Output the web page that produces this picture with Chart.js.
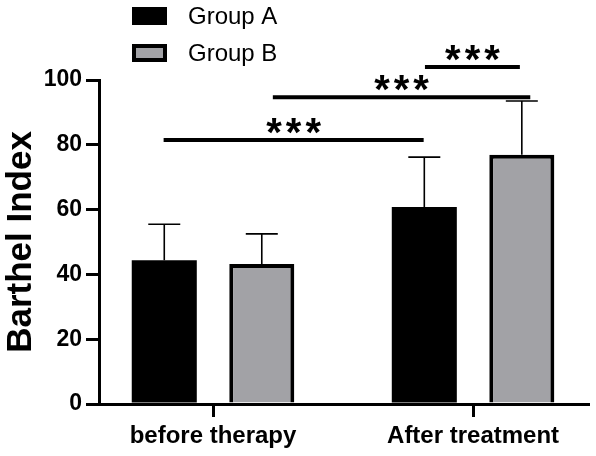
<!DOCTYPE html>
<html>
<head>
<meta charset="utf-8">
<script src="https://cdn.jsdelivr.net/npm/chart.js@4"></script>
<style>
  html, body { margin: 0; padding: 0; background: #fff; }
</style>
</head>
<body>
<canvas id="barthelChart" width="596" height="456"></canvas>
<script>
const categories = ['before therapy', 'After treatment'];
const groupNames = ['Group A', 'Group B'];
const groupAMean = [44.4, 60.8];
const groupASd = [11.1, 15.4];
const groupBMean = [43.2, 76.9];
const groupBSd = [9.3, 16.6];
const yTicks = [0, 20, 40, 60, 80, 100];
// significance bars: level on the y scale, ends on the x scale
const sigLevel = [81.5, 94.7, 104];
const sigStart = [-0.19, 0.23, 0.815];
const sigEnd = [0.81, 1.22, 1.18];
const sigLabel = ['***', '***', '***'];

const FONT = "'Liberation Sans', Arial, sans-serif";

const errorBars = {
    id: 'errorBars',
    afterDatasetsDraw(chart) {
        const ctx = chart.ctx;
        const y = chart.scales.y;
        ctx.save();
        ctx.strokeStyle = '#000';
        ctx.lineWidth = 1.6;
        chart.data.datasets.forEach((ds, di) => {
            chart.getDatasetMeta(di).data.forEach((bar, i) => {
                const top = y.getPixelForValue(ds.data[i].y + ds.sd[i]);
                ctx.beginPath();
                ctx.moveTo(bar.x, bar.y);
                ctx.lineTo(bar.x, top);
                ctx.moveTo(bar.x - 16, top);
                ctx.lineTo(bar.x + 16, top);
                ctx.stroke();
            });
        });
        ctx.restore();
    }
};

const sigBars = {
    id: 'sigBars',
    afterDraw(chart) {
        const ctx = chart.ctx;
        const xs = chart.scales.x, ys = chart.scales.y;
        ctx.save();
        ctx.strokeStyle = '#000';
        ctx.fillStyle = '#000';
        ctx.lineWidth = 4;
        ctx.font = 'bold 40px ' + FONT;
        ctx.letterSpacing = '4px';
        ctx.textAlign = 'center';
        ctx.textBaseline = 'alphabetic';
        sigLevel.forEach((lvl, i) => {
            const x1 = xs.getPixelForValue(sigStart[i]);
            const x2 = xs.getPixelForValue(sigEnd[i]);
            const yy = ys.getPixelForValue(lvl);
            ctx.beginPath();
            ctx.moveTo(x1, yy);
            ctx.lineTo(x2, yy);
            ctx.stroke();
            ctx.fillText(sigLabel[i], (x1 + x2) / 2 + 2, yy + 6);
        });
        ctx.restore();
    }
};

const boxLegend = {
    id: 'boxLegend',
    afterDraw(chart) {
        const ctx = chart.ctx;
        ctx.save();
        ctx.font = '24px ' + FONT;
        ctx.textBaseline = 'middle';
        ctx.textAlign = 'left';
        chart.data.datasets.forEach((ds, i) => {
            const bx = 132, by = 7 + i * 37, bw = 35, bh = 18;
            ctx.fillStyle = ds.borderColor;
            ctx.fillRect(bx, by, bw, bh);
            ctx.fillStyle = ds.backgroundColor;
            const b = ds.borderWidth;
            ctx.fillRect(bx + b, by + b, bw - 2 * b, bh - 2 * b);
            ctx.fillStyle = '#000';
            ctx.fillText(ds.label, 188, by + bh / 2 + 1);
        });
        ctx.restore();
    }
};

new Chart(document.getElementById('barthelChart'), {
    type: 'bar',
    data: {
        datasets: [{
            label: groupNames[0],
            data: groupAMean.map((v, i) => ({ x: i, y: v })),
            sd: groupASd,
            backgroundColor: '#000',
            borderColor: '#000',
            borderWidth: 0,
        }, {
            label: groupNames[1],
            data: groupBMean.map((v, i) => ({ x: i, y: v })),
            sd: groupBSd,
            backgroundColor: '#a2a2a6',
            borderColor: '#000',
            borderWidth: 4,
        }]
    },
    options: {
        responsive: false,
        animation: false,
        categoryPercentage: 0.75,
        barPercentage: 0.667,
        layout: { padding: { top: 80, right: 8, left: 0, bottom: 0 } },
        plugins: { legend: { display: false }, tooltip: { enabled: false } },
        scales: {
            x: {
                type: 'linear',
                min: -0.4385,
                max: 1.442,
                offset: false,
                afterBuildTicks: (scale) => { scale.ticks = categories.map((c, i) => ({ value: i })); },
                afterFit: (scale) => { scale.height = 52; },
                ticks: {
                    callback: (v) => categories[v],
                    color: '#000',
                    font: { family: FONT, size: 24, weight: 'bold' },
                    padding: 5,
                    maxRotation: 0,
                },
                grid: { offset: false, drawOnChartArea: false, color: '#000', lineWidth: 3, tickLength: 13 },
                border: { color: '#000', width: 3 },
            },
            y: {
                min: 0,
                max: 100,
                afterBuildTicks: (scale) => { scale.ticks = yTicks.map(v => ({ value: v })); },
                afterFit: (scale) => { scale.width = 99; },
                ticks: {
                    color: '#000',
                    font: { family: FONT, size: 23, weight: 'bold' },
                    padding: 4,
                },
                grid: { drawOnChartArea: false, color: '#000', lineWidth: 3, tickLength: 13 },
                border: { color: '#000', width: 3 },
                title: {
                    display: true,
                    text: 'Barthel Index',
                    color: '#000',
                    font: { family: FONT, size: 35, weight: 'bold' },
                    padding: 0,
                },
            }
        }
    },
    plugins: [errorBars, sigBars, boxLegend]
});
</script>
</body>
</html>
